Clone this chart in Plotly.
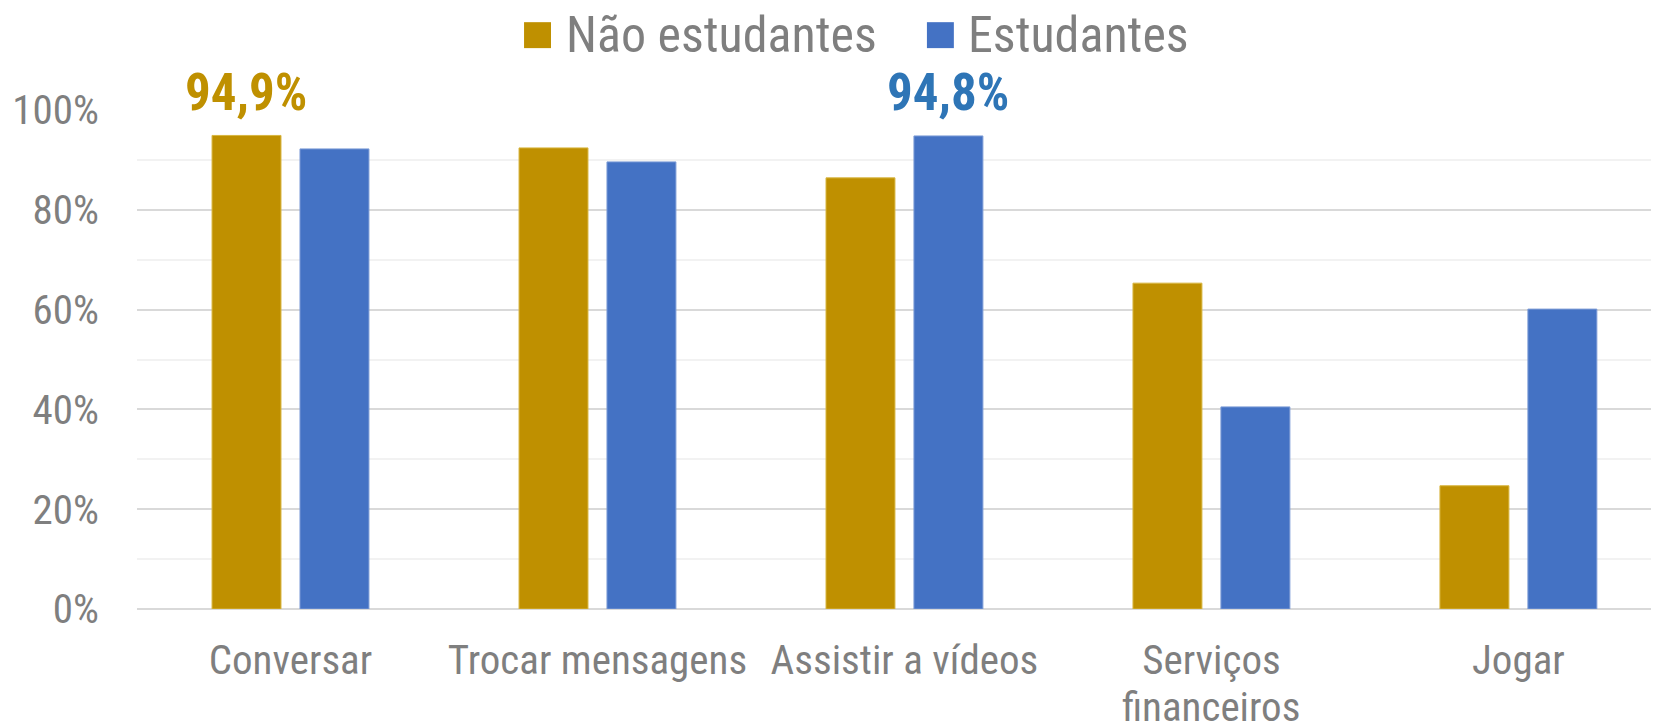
import plotly.graph_objects as go

categories = ['Conversar', 'Trocar mensagens', 'Assistir a vídeos',
              'Serviços financeiros', 'Jogar']
nao_estudantes = [94.9, 92.4, 86.4, 65.3, 24.7]
estudantes = [92.2, 89.6, 94.8, 40.5, 60.1]
series_names = ['Não estudantes', 'Estudantes']
y_ticks = [0, 20, 40, 60, 80, 100]
y_tick_labels = ['0%', '20%', '40%', '60%', '80%', '100%']

# category labels that are wrapped on two lines in the chart
wrapped = {'Serviços financeiros': ['Serviços', 'financeiros']}

GOLD = '#BF9000'
BLUE = '#4472C4'
BLUE_TEXT = '#2E75B6'
GRAY = '#7F7F7F'
FONT = 'Liberation Sans Narrow, Arial Narrow, Roboto Condensed, Liberation Sans, Arial, sans-serif'
TICK_SIZE = 41


def fmt(v):
    return ('%.1f%%' % v).replace('.', ',')


fig = go.Figure()
fig.add_trace(go.Bar(x=categories, y=nao_estudantes, name=series_names[0],
                     marker=dict(color=GOLD, line=dict(color='#D8B640', width=1)),
                     showlegend=False))
fig.add_trace(go.Bar(x=categories, y=estudantes, name=series_names[1],
                     marker=dict(color=BLUE, line=dict(color='#7C9BD6', width=1)),
                     showlegend=False))

# highlight the highest value of each series
i_gold = nao_estudantes.index(max(nao_estudantes))
i_blue = estudantes.index(max(estudantes))
fig.add_annotation(x=categories[i_gold], y=nao_estudantes[i_gold], text='<b>%s</b>' % fmt(nao_estudantes[i_gold]),
                   showarrow=False, xshift=-44, yshift=43, yanchor='middle',
                   font=dict(family=FONT, size=51, color=GOLD), bgcolor='white', borderpad=8)
fig.add_annotation(x=categories[i_blue], y=estudantes[i_blue], text='<b>%s</b>' % fmt(estudantes[i_blue]),
                   showarrow=False, xshift=44, yshift=43, yanchor='middle',
                   font=dict(family=FONT, size=51, color=BLUE_TEXT), bgcolor='white', borderpad=8)

# second line of wrapped category labels (tighter line spacing than plotly's <br>)
tick_text = []
for c in categories:
    lines = wrapped.get(c, [c])
    tick_text.append(lines[0])
    for k, line in enumerate(lines[1:], start=1):
        fig.add_annotation(x=c, y=0, yref='y', text=line, showarrow=False,
                           yanchor='top', yshift=-29 - 45 * k, height=44,
                           font=dict(family=FONT, size=TICK_SIZE, color=GRAY))

# custom legend (large squares)
legend_items = [(series_names[0], GOLD, 0.2543), (series_names[1], BLUE, 0.519)]
for name, color, x0 in legend_items:
    fig.add_shape(type='rect', xref='paper', yref='paper',
                  x0=x0, x1=x0 + 0.0177, y0=1.124, y1=1.176,
                  fillcolor=color, line=dict(width=0))
    fig.add_annotation(xref='paper', yref='paper', x=x0 + 0.026, y=1.151,
                       xanchor='left', yanchor='middle', showarrow=False, text=name,
                       height=54, font=dict(family=FONT, size=50, color=GRAY))

# page body has an 8px margin, so the figure is 8px smaller than the window
fig.update_layout(
    width=1651, height=718,
    margin=dict(l=129, r=0, t=102, b=117),
    paper_bgcolor='white', plot_bgcolor='white',
    bargap=0.427, bargroupgap=0.216, barmode='group',
    font=dict(family=FONT, color=GRAY),
)
fig.update_xaxes(range=[-0.5, 4.458], showgrid=False, showline=False, ticks='',
                 tickvals=categories, ticktext=tick_text, automargin=False,
                 tickfont=dict(family=FONT, size=TICK_SIZE, color=GRAY), ticklabelstandoff=23)
fig.update_yaxes(range=[0, 100], tickvals=y_ticks, ticktext=y_tick_labels, automargin=False,
                 showgrid=True, gridcolor='#D9D9D9', gridwidth=1.5,
                 zeroline=True, zerolinecolor='#D9D9D9', zerolinewidth=1.5,
                 minor=dict(dtick=10, showgrid=True, gridcolor='#F2F2F2', gridwidth=1.5),
                 tickfont=dict(family=FONT, size=TICK_SIZE, color=GRAY), ticklabelstandoff=37)

fig.write_html('out.html')
